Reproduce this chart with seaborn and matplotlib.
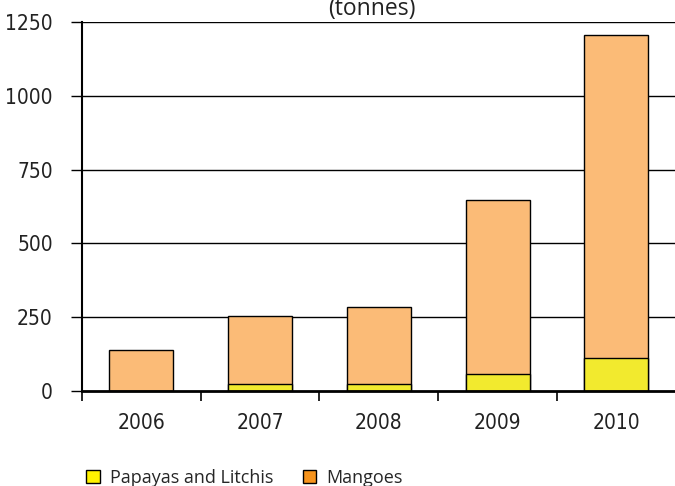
import matplotlib
matplotlib.use("Agg")
import matplotlib.pyplot as plt
import seaborn as sns
import pandas as pd
from matplotlib.patches import Patch
from matplotlib import font_manager

years = ["2006", "2007", "2008", "2009", "2010"]
papayas_litchis = [0, 25, 25, 59, 111]
mangoes = [140, 228, 258, 587, 1096]
yticks = [0, 250, 500, 750, 1000, 1250]

df = pd.DataFrame({"year": years, "papayas": papayas_litchis, "mangoes": mangoes})
df["total"] = df["papayas"] + df["mangoes"]

sns.set_theme(style="white")
names = {f.name for f in font_manager.fontManager.ttflist}
tick_family = ["Liberation Sans Narrow"] if "Liberation Sans Narrow" in names else ["DejaVu Sans"]
tick_stretch = "normal" if "Liberation Sans Narrow" in names else "condensed"
plt.rcParams["font.family"] = tick_family + ["DejaVu Sans"]

fig = plt.figure(figsize=(6.75, 4.86), dpi=100)
ax = fig.add_axes([82 / 675, 1 - 391 / 486, 1 - 82 / 675 + 0.001, (391 - 22) / 486])

mango_col = "#FBBB77"
yellow_col = "#F2EA2E"

sns.barplot(data=df, x="year", y="total", color=mango_col, saturation=1,
            width=0.54, edgecolor="black", linewidth=1.0, ax=ax)
sns.barplot(data=df, x="year", y="papayas", color=yellow_col, saturation=1,
            width=0.54, edgecolor="black", linewidth=1.0, ax=ax)

ax.set_ylim(0, 1250)
ax.set_xlim(-0.5, 4.5)
ax.set_yticks(yticks)
ax.set_yticklabels([str(v) for v in yticks], fontsize=15)
for v in yticks[1:]:
    ax.axhline(v, color="black", lw=1.0, zorder=0)
ax.set_xlabel("")
ax.set_ylabel("")

ax.set_xticks([i - 0.5 for i in range(6)])
ax.set_xticklabels([""] * 6)
ax.set_xticks(range(5), minor=True)
ax.set_xticklabels(years, minor=True, fontsize=15)
ax.tick_params(axis="x", which="major", direction="out", length=7, width=1.2,
               color="black", bottom=True)
ax.tick_params(axis="x", which="minor", length=0, pad=16, colors="#222222")
ax.tick_params(axis="y", direction="out", length=8, width=1.0, color="black",
               left=True, pad=13, colors="#222222")
for lab in ax.get_xticklabels(minor=True) + ax.get_yticklabels():
    lab.set_fontstretch(tick_stretch)

for s in ["top", "right"]:
    ax.spines[s].set_visible(False)
ax.spines["left"].set_color("black")
ax.spines["left"].set_linewidth(1.5)
ax.spines["bottom"].set_color("black")
ax.spines["bottom"].set_linewidth(2.0)
ax.spines["bottom"].set_zorder(5)

fig.text(372 / 675, 1 - 15 / 486, "(tonnes)", ha="center", va="baseline",
         fontsize=16.5, family=["Open Sans", "DejaVu Sans"], color="#222222")

handles = [Patch(facecolor="#FFF200", edgecolor="black", label="Papayas and Litchis"),
           Patch(facecolor="#F7941D", edgecolor="black", label="Mangoes")]
fig.legend(handles=handles, loc="center left", bbox_to_anchor=(70 / 675, 1 - 478 / 486),
           ncol=2, frameon=False, handlelength=0.75, handleheight=0.75,
           handletextpad=0.55, columnspacing=1.65,
           prop={"family": ["Open Sans", "DejaVu Sans"], "size": 13})

fig.savefig("out.png", dpi=100)
